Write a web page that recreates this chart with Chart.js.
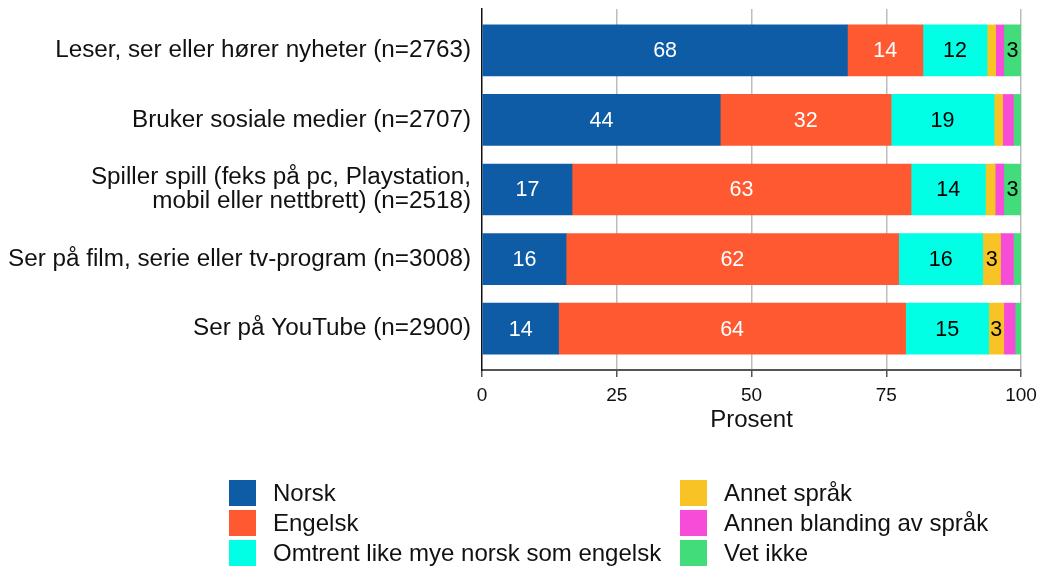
<!DOCTYPE html>
<html lang="no">
<head>
<meta charset="utf-8">
<script src="https://cdn.jsdelivr.net/npm/chart.js@4/dist/chart.umd.min.js"></script>
<style>
  html, body { margin: 0; padding: 0; background: #fff; }
  #wrap { position: relative; width: 1041px; height: 569px; }
  #chart { position: absolute; left: 0; top: 0; }
  #legend {
    position: absolute; left: 229px; top: 478px;
    display: grid; grid-template-columns: 451px auto; grid-auto-flow: column;
    grid-template-rows: repeat(3, 30px);
    font-family: "Liberation Sans", Arial, sans-serif; font-size: 24px; color: #111;
    white-space: nowrap;
  }
  .item { display: flex; align-items: center; height: 30px; }
  .box { width: 27px; height: 26px; margin-right: 17px; flex: none; }
</style>
</head>
<body>
<div id="wrap">
  <canvas id="chart" width="1041" height="569"></canvas>
  <div id="legend"></div>
</div>
<script>
// Activities (rows, top to bottom)
const categories = [
  "Leser, ser eller hører nyheter (n=2763)",
  "Bruker sosiale medier (n=2707)",
  ["Spiller spill (feks på pc, Playstation,", "mobil eller nettbrett) (n=2518)"],
  "Ser på film, serie eller tv-program (n=3008)",
  "Ser på YouTube (n=2900)"
];

// Share in percent per language answer, one value per row
const norsk   = [67.8, 44.2, 16.7, 15.6, 14.2];
const engelsk = [14.0, 31.7, 62.9, 61.7, 64.4];
const omtrent = [11.9, 19.1, 13.8, 15.6, 15.4];
const annet   = [1.6, 1.6, 1.8, 3.3, 2.8];
const blanding = [1.5, 2.0, 1.6, 2.4, 2.1];
const vetIkke = [3.2, 1.4, 3.2, 1.4, 1.1];

const seriesNames = ["Norsk", "Engelsk", "Omtrent like mye norsk som engelsk",
                     "Annet språk", "Annen blanding av språk", "Vet ikke"];
const seriesValues = [norsk, engelsk, omtrent, annet, blanding, vetIkke];
const seriesColors = ["#0e5ca5", "#ff5931", "#00ffe4", "#f8c425", "#f74cd8", "#42dc7a"];
const labelColors  = ["#ffffff", "#ffffff", "#000000", "#000000", "#000000", "#000000"];

const xTicks = [0, 25, 50, 75, 100];

const FONT = "'Liberation Sans', Arial, sans-serif";

const datasets = seriesNames.map((name, i) => ({
  label: name,
  data: seriesValues[i].map((v, r) => ({ x: v, y: r })),
  backgroundColor: seriesColors[i],
  borderWidth: 0,
  barThickness: 51,
  labelColor: labelColors[i]
}));

// Value labels in the middle of each segment (rounded, only when >= 3)
const valueLabels = {
  id: 'valueLabels',
  afterDatasetsDraw(chart) {
    const ctx = chart.ctx;
    ctx.save();
    ctx.font = "21.5px " + FONT;
    ctx.textAlign = 'center';
    ctx.textBaseline = 'middle';
    chart.data.datasets.forEach((ds, di) => {
      const meta = chart.getDatasetMeta(di);
      meta.data.forEach((el, j) => {
        const v = Math.round(ds.data[j].x);
        if (v < 3) return;
        const c = el.getCenterPoint();
        ctx.fillStyle = ds.labelColor;
        ctx.fillText(String(v), c.x, c.y + 1);
      });
    });
    ctx.restore();
  }
};

const chart = new Chart(document.getElementById('chart'), {
  type: 'bar',
  data: { datasets },
  options: {
    indexAxis: 'y',
    responsive: false,
    animation: false,
    layout: { padding: { top: 9, right: 20, bottom: 129, left: 0 } },
    plugins: { legend: { display: false }, tooltip: { enabled: false } },
    scales: {
      x: {
        type: 'linear',
        stacked: true,
        min: 0, max: 100,
        afterBuildTicks(scale) { scale.ticks = xTicks.map(v => ({ value: v })); },
        afterFit(scale) { scale.height = 70; scale.paddingRight = 0; scale.paddingLeft = 0; },
        grid: {
          color: ctx => ctx.tick && ctx.tick.value === 0 ? 'rgba(0,0,0,0)' : '#bdbdbd',
          lineWidth: 1.5,
          drawTicks: true,
          tickLength: 7,
          tickColor: '#555',
          tickWidth: 1.5
        },
        border: { display: true, color: '#555', width: 2 },
        ticks: { color: '#111', font: { family: FONT, size: 19 }, padding: 7, maxRotation: 0 },
        title: {
          display: true, text: 'Prosent', color: '#111',
          font: { family: FONT, size: 24 }, padding: { top: 0, bottom: 5 }
        }
      },
      y: {
        type: 'linear',
        stacked: true,
        reverse: true,
        offset: false,
        min: -0.595, max: 4.595,
        afterBuildTicks(scale) { scale.ticks = categories.map((c, i) => ({ value: i })); },
        afterFit(scale) { scale.width = 482; scale.paddingTop = 0; scale.paddingBottom = 0; },
        grid: { display: false, drawTicks: false },
        border: { display: true, color: '#111', width: 1.5 },
        ticks: {
          color: '#111',
          font: { family: FONT, size: 24.25, lineHeight: 1.0 },
          padding: 11,
          callback: v => categories[v]
        }
      }
    }
  },
  plugins: [valueLabels]
});

// Two-column legend built from the chart's datasets
const legend = document.getElementById('legend');
chart.data.datasets.forEach(ds => {
  const item = document.createElement('div');
  item.className = 'item';
  const box = document.createElement('span');
  box.className = 'box';
  box.style.background = ds.backgroundColor;
  const txt = document.createElement('span');
  txt.textContent = ds.label;
  item.appendChild(box);
  item.appendChild(txt);
  legend.appendChild(item);
});
</script>
</body>
</html>
